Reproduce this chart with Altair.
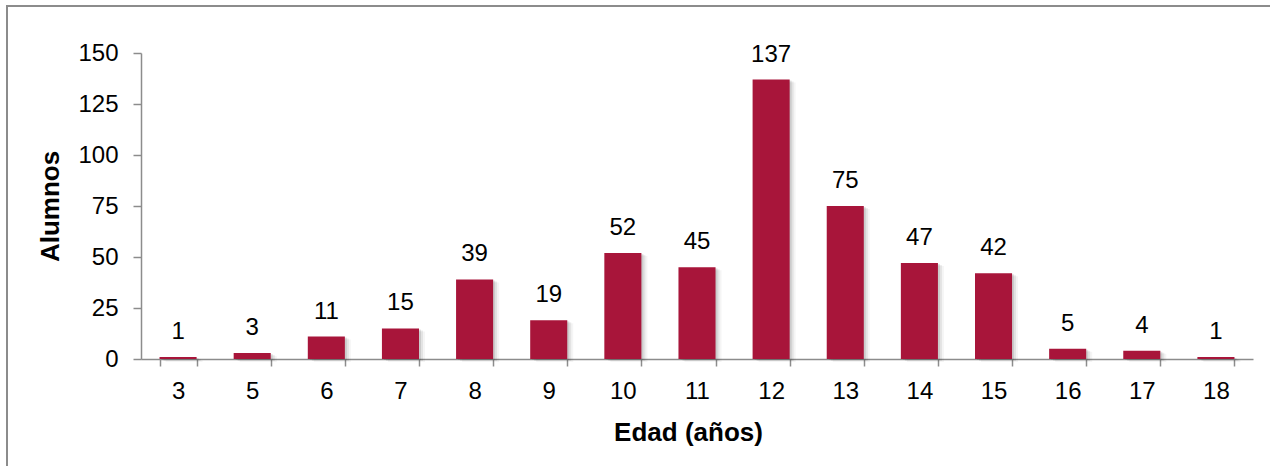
import altair as alt
import pandas as pd

# Alumnos por edad
edades = ["3", "5", "6", "7", "8", "9", "10", "11", "12", "13", "14", "15", "16", "17", "18"]
alumnos = [1, 3, 11, 15, 39, 19, 52, 45, 137, 75, 47, 42, 5, 4, 1]

df = pd.DataFrame({"edad": edades, "alumnos": alumnos})

W, H = 1112, 306
FONT = "Liberation Sans"
AXIS_GREY = "#8c8c8c"
BAR = "#A8153A"
FS = 24
TFS = 26

x = alt.X(
    "edad:N",
    sort=edades,
    scale=alt.Scale(paddingInner=0.5, paddingOuter=0.25),
    axis=alt.Axis(
        title="Edad (años)",
        labelAngle=0,
        labelFontSize=FS,
        labelFont=FONT,
        labelColor="black",
        labelPadding=13,
        tickBand="extent",
        tickSize=7,
        tickColor=AXIS_GREY,
        domainColor=AXIS_GREY,
        domainWidth=1.5,
        tickWidth=1.5,
        titleFontSize=TFS,
        titleFont=FONT,
        titleFontWeight="bold",
        titlePadding=16,
        titleX=547,
    ),
)
y = alt.Y(
    "alumnos:Q",
    scale=alt.Scale(domain=[0, 150], nice=False),
    axis=alt.Axis(
        title="Alumnos",
        values=[0, 25, 50, 75, 100, 125, 150],
        grid=False,
        labelFontSize=FS,
        labelFont=FONT,
        labelColor="black",
        labelPadding=15,
        tickSize=8,
        tickColor=AXIS_GREY,
        domainColor=AXIS_GREY,
        domainWidth=1.5,
        tickWidth=1.5,
        titleFontSize=TFS,
        titleFont=FONT,
        titleFontWeight="bold",
        titlePadding=14,
    ),
)

base = alt.Chart(df)

# soft drop shadow to the right of each bar
shadows = [
    base.mark_bar(color="#000000", opacity=op, xOffset=dx, yOffset=dy)
    .encode(x=x, y=y)
    for dx, dy, op in [(6, 3, 0.04), (4, 2, 0.07), (2, 1, 0.10)]
]

bars = base.mark_bar(color=BAR).encode(x=x, y=y)

labels = base.mark_text(
    fontSize=FS, font=FONT, color="black", baseline="alphabetic", dy=-18
).encode(x=x, y=y, text="alumnos:Q")

# outer frame around the whole chart (left and top edges visible)
frame = alt.Chart(pd.DataFrame({"k": [0]})).mark_rect(
    fill=None, stroke="#8c8c8c", strokeWidth=2, clip=False
).encode(
    x=alt.value(-134), x2=alt.value(W + 40),
    y=alt.value(-47), y2=alt.value(H + 140),
)

chart = (
    alt.layer(frame, *shadows, bars, labels)
    .properties(width=W, height=H, background="white",
                padding={"left": 141, "top": 53, "right": 17, "bottom": 107},
                autosize=alt.AutoSizeParams(type="none"))
    .configure_view(stroke=None)
)

chart.save("out.html", embed_options={"renderer": "svg", "actions": False})
